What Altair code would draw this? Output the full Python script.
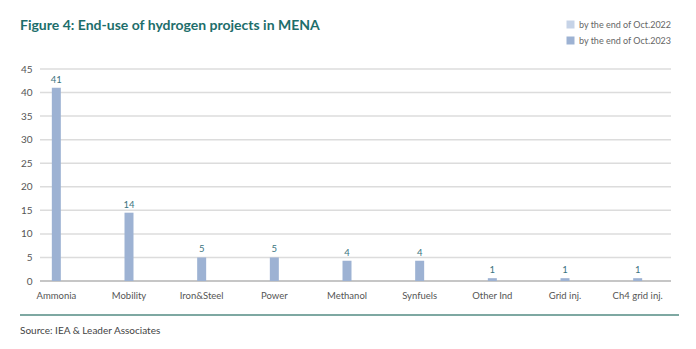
import altair as alt
import pandas as pd

categories = ["Ammonia", "Mobility", "Iron&Steel", "Power", "Methanol",
              "Synfuels", "Other Ind", "Grid inj.", "Ch4 grid inj."]
values_2023 = [41, 14.5, 5, 5, 4.3, 4.3, 0.6, 0.6, 0.6]
labels_2023 = [41, 14, 5, 5, 4, 4, 1, 1, 1]
series = ["by the end of Oct.2022", "by the end of Oct.2023"]
series_colors = ["#c6d3e7", "#9db2d3"]
y_ticks = [0, 5, 10, 15, 20, 25, 30, 35, 40, 45]
title_text = "Figure 4: End-use of hydrogen projects in MENA"
source_text = "Source: IEA & Leader Associates"

FONT = "Lato"
W, H = 631, 212

df = pd.DataFrame({
    "category": categories,
    "value": values_2023,
    "label": labels_2023,
    "series": [series[1]] * len(categories),
})

x_enc = alt.X("category:N", sort=categories,
              scale=alt.Scale(range=[-20, 634]),
              axis=alt.Axis(title=None, labelAngle=0, domain=False, ticks=False,
                            labelPadding=9, labelFontSize=9.5, labelColor="#555555",
                            labelFont=FONT, labelOverlap=False))
y_enc = alt.Y("value:Q", scale=alt.Scale(domain=[0, 45], nice=False),
              axis=alt.Axis(title=None, values=y_ticks, domain=False, ticks=False,
                            grid=False, labelPadding=8, labelFontSize=10,
                            labelColor="#555555", labelFont=FONT,
                            labelOverlap=False))

grid_df = pd.DataFrame({"value": y_ticks})
grid = alt.Chart(grid_df).mark_rule(color="#dcdcdc", strokeWidth=1.5).encode(
    y=y_enc,
    x=alt.value(0), x2=alt.value(W),
    color=alt.condition(alt.datum.value == 0, alt.value("#b3b3b3"), alt.value("#dcdcdc")),
)

base = alt.Chart(df)

bars = base.mark_bar(size=9).encode(
    x=x_enc,
    y=y_enc,
    color=alt.Color("series:N",
                    scale=alt.Scale(domain=series, range=series_colors),
                    legend=alt.Legend(title=None, orient="none", legendX=526, legendY=-49,
                                      symbolType="square", symbolSize=64,
                                      symbolStrokeWidth=0, labelFontSize=9,
                                      labelColor="#666666", labelFont=FONT,
                                      labelOffset=4, rowPadding=6, padding=0)),
)

texts = base.mark_text(baseline="bottom", dy=-3, fontSize=9.5, font=FONT,
                       color="#3b7480").encode(
    x=x_enc,
    y=y_enc,
    text="label:Q",
)

title = alt.Chart(pd.DataFrame({"t": [title_text]})).mark_text(
    align="left", baseline="alphabetic", fontSize=14, fontWeight="bold",
    font=FONT, color="#1d6e6b").encode(
    text="t:N", x=alt.value(-20), y=alt.value(-39))

rule = alt.Chart(pd.DataFrame({"r": [1]})).mark_rule(
    color="#7ea8a2", strokeWidth=2).encode(
    x=alt.value(-20), x2=alt.value(639), y=alt.value(246))

source = alt.Chart(pd.DataFrame({"s": [source_text]})).mark_text(
    align="left", baseline="middle", fontSize=10, font=FONT,
    color="#444444").encode(
    text="s:N", x=alt.value(-20), y=alt.value(262))

chart = alt.layer(grid, bars, texts, title, rule, source).properties(
    width=W, height=H,
    autosize=alt.AutoSizeParams(type="none"),
    padding={"left": 40, "top": 69, "right": 25, "bottom": 68},
    background="white",
).configure_view(stroke=None)

chart.save("out.html", embed_options={"renderer": "svg", "actions": False})
